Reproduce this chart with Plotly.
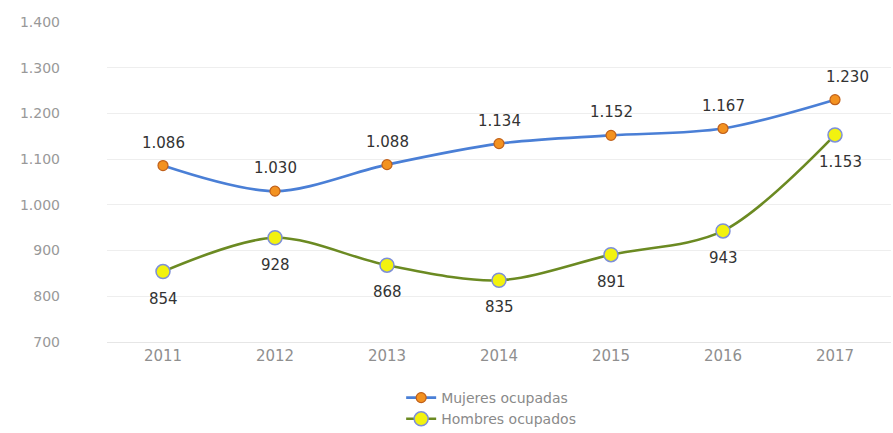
import plotly.graph_objects as go

years = ["2011", "2012", "2013", "2014", "2015", "2016", "2017"]
mujeres = [1086, 1030, 1088, 1134, 1152, 1167, 1230]
hombres = [854, 928, 868, 835, 891, 943, 1153]
y_ticks = [700, 800, 900, 1000, 1100, 1200, 1300, 1400]


def fmt(v):
    return f"{v:,}".replace(",", ".")


fig = go.Figure()

fig.add_trace(go.Scatter(
    x=years, y=mujeres, name="Mujeres ocupadas",
    mode="lines+markers",
    line=dict(color="#4a7fd6", width=2.6, shape="spline", smoothing=0.9),
    marker=dict(size=10, color="#f39220", line=dict(color="#c0601a", width=1.2)),
))

fig.add_trace(go.Scatter(
    x=years, y=hombres, name="Hombres ocupados",
    mode="lines+markers",
    line=dict(color="#6b8a22", width=2.6, shape="spline", smoothing=0.9),
    marker=dict(size=14, color="#f2f20f", line=dict(color="#7d8fd8", width=1.5)),
))

# value labels: women above the points, men below
# (annotations on a category axis are placed by category index)
label_font = dict(family="DejaVu Sans", size=15, color="#333333")
last = len(years) - 1
for i, v in enumerate(mujeres):
    fig.add_annotation(x=i, y=v, text=fmt(v), showarrow=False,
                       yshift=23, xshift=12 if i == last else 0,
                       font=label_font)
for i, v in enumerate(hombres):
    fig.add_annotation(x=i, y=v, text=fmt(v), showarrow=False,
                       yshift=-27, xshift=5 if i == last else 0,
                       font=label_font)

fig.update_layout(
    width=893, height=433,
    margin=dict(l=107, r=2, t=22, b=91, autoexpand=False),
    paper_bgcolor="white", plot_bgcolor="white",
    separators=",.",
    font=dict(family="DejaVu Sans", color="#8a8a8a", size=13),
    showlegend=True,
    legend=dict(orientation="v", x=0.49, xanchor="center", y=-0.125, yanchor="top",
                font=dict(size=14, color="#8a8a8a"), itemwidth=30,
                tracegroupgap=0),
    xaxis=dict(type="category", range=[-0.5, 6.5], showgrid=False, zeroline=False,
               showline=True, linecolor="#e6e6e6", linewidth=1,
               tickfont=dict(size=15, color="#8f8f8f"), ticks=""),
    yaxis=dict(range=[700, 1400], tickvals=y_ticks, showgrid=True,
               gridcolor="#eeeeee", gridwidth=1, zeroline=False,
               tickformat=",", ticklabelstandoff=46,
               tickfont=dict(size=14, color="#999999")),
)

fig.write_html("out.html")
